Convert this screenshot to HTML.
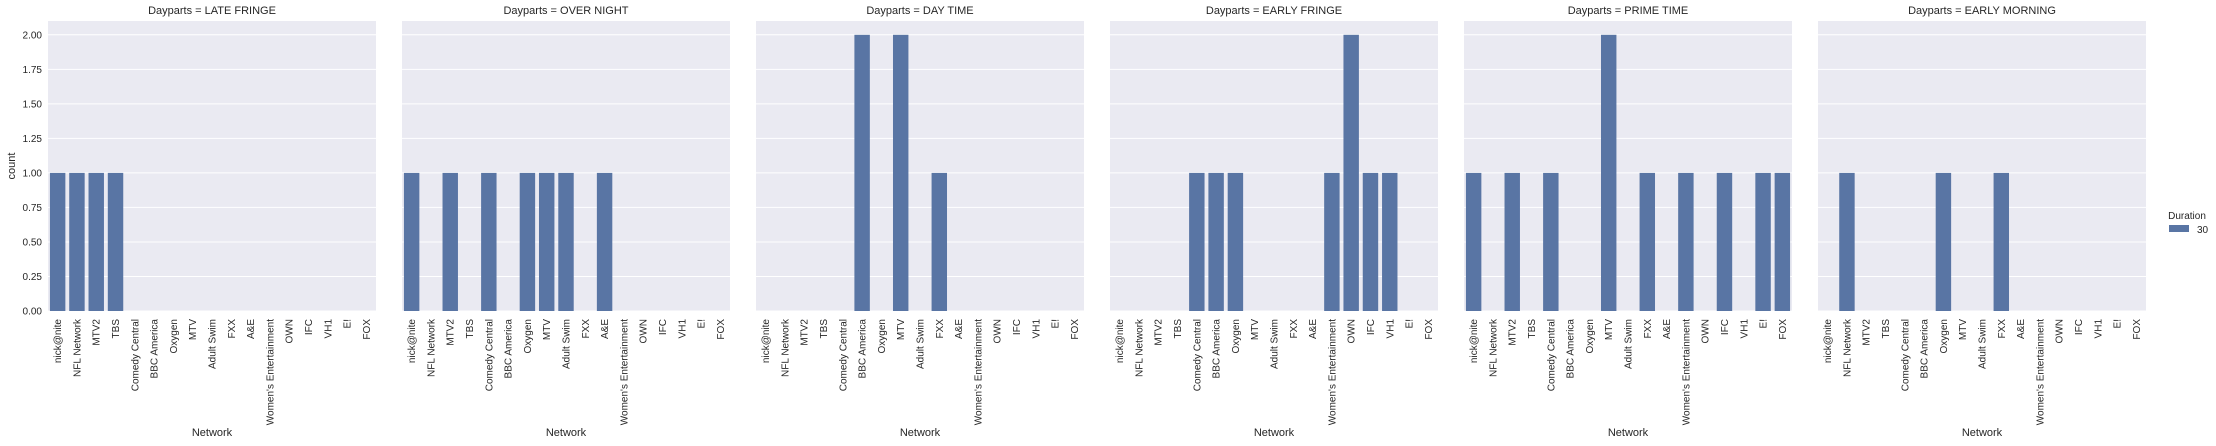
<!DOCTYPE html>
<html><head><meta charset="utf-8"><style>
html,body{margin:0;padding:0;background:#fff;width:2216px;height:446px;overflow:hidden}
svg text{font-family:"Liberation Sans",Arial,sans-serif;fill:#262626}
</style></head><body>
<svg id="chart" width="2216" height="446" xmlns="http://www.w3.org/2000/svg"></svg>
<script>
const categories=["nick@nite","NFL Network","MTV2","TBS","Comedy Central","BBC America","Oxygen","MTV","Adult Swim","FXX","A&E","Women's Entertainment","OWN","IFC","VH1","E!","FOX"];
const panelTitles=["LATE FRINGE","OVER NIGHT","DAY TIME","EARLY FRINGE","PRIME TIME","EARLY MORNING"];
const lateFringe=[1,1,1,1,0,0,0,0,0,0,0,0,0,0,0,0,0];
const overNight=[1,0,1,0,1,0,1,1,1,0,1,0,0,0,0,0,0];
const dayTime=[0,0,0,0,0,2,0,2,0,1,0,0,0,0,0,0,0];
const earlyFringe=[0,0,0,0,1,1,1,0,0,0,0,1,2,1,1,0,0];
const primeTime=[1,0,1,0,1,0,0,2,0,1,0,1,0,1,0,1,1];
const earlyMorning=[0,1,0,0,0,0,1,0,0,1,0,0,0,0,0,0,0];
const yTicks=[0,0.25,0.5,0.75,1,1.25,1.5,1.75,2];
const yMax=2.1;
const seriesList=[lateFringe,overNight,dayTime,earlyFringe,primeTime,earlyMorning];

const svg=document.getElementById('chart');
const NS='http://www.w3.org/2000/svg';
function mk(tag,attrs,parent){const e=document.createElementNS(NS,tag);for(const k in attrs)e.setAttribute(k,attrs[k]);(parent||svg).appendChild(e);return e;}
const plotTop=21,plotBottom=311,pw=328,step=354,left0=48;
const y=v=>plotBottom-(v/yMax)*(plotBottom-plotTop);
const band=pw/categories.length;

seriesList.forEach((vals,p)=>{
  const x0=left0+p*step;
  const g=mk('g',{});
  
  
  const bg=mk('rect',{x:x0,y:plotTop,width:pw,height:plotBottom-plotTop,fill:'#eaeaf2'},g);
  
  
  yTicks.forEach(t=>{
    const l=mk('line',{x1:x0,x2:x0+pw,y1:y(t),y2:y(t),stroke:'#fff','stroke-width':1},g);
    
    
    if(p===0){
      const tx=mk('text',{x:x0-6,y:y(t)+3.5,'text-anchor':'end','font-size':10},g);
      tx.textContent=t.toFixed(2);
      
      
    }
  });
  vals.forEach((v,i)=>{
    const cx=x0+band*(i+0.5);
    if(v>0){
      const r=mk('rect',{x:cx-band*0.4,y:y(v),width:band*0.8,height:plotBottom-y(v),fill:'#5975a4'},g);
      
      
    }
    const tl=mk('text',{x:0,y:0,'text-anchor':'end','font-size':10,transform:`translate(${cx+3.5},${plotBottom+8}) rotate(-90)`},g);
    tl.textContent=categories[i];
    
    
  });
  const tt=mk('text',{x:x0+pw/2,y:14,'text-anchor':'middle','font-size':11},g);
  tt.textContent='Dayparts = '+panelTitles[p];
  
  
  const xt=mk('text',{x:x0+pw/2,y:436,'text-anchor':'middle','font-size':11},g);
  xt.textContent='Network';
  
  
});
const yl=mk('text',{x:0,y:0,'text-anchor':'middle','font-size':11,transform:`translate(15,${(plotTop+plotBottom)/2}) rotate(-90)`});
yl.textContent='count';


const lg=mk('g',{});


const lt=mk('text',{x:2187,y:219,'text-anchor':'middle','font-size':10},lg);
lt.textContent='Duration';


const lp=mk('rect',{x:2169,y:225,width:20,height:7,fill:'#5975a4'},lg);


const ln=mk('text',{x:2197,y:233,'font-size':10},lg);
ln.textContent='30';


</script>
</body></html>
